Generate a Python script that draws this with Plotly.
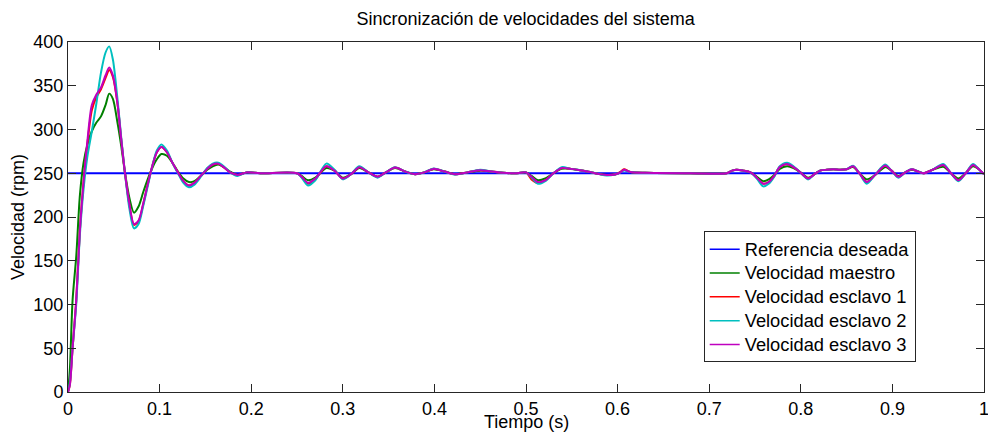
import plotly.graph_objects as go

# ---- data ----
tiempo = [0, 0.002, 0.005, 0.009, 0.013, 0.017, 0.021, 0.026, 0.031, 0.036,
          0.041, 0.045, 0.049, 0.054, 0.058, 0.062, 0.067, 0.072, 0.077, 0.082,
          0.087, 0.092, 0.097, 0.102, 0.108, 0.114, 0.120, 0.126, 0.132, 0.138,
          0.145, 0.152, 0.158, 0.164, 0.170, 0.177, 0.185, 0.195, 0.21, 0.25,
          0.255, 0.262, 0.27, 0.282, 0.291, 0.300, 0.309, 0.318, 0.328, 0.338,
          0.347, 0.357, 0.368, 0.379, 0.389, 0.399, 0.411, 0.4225, 0.436, 0.45,
          0.462, 0.475, 0.49, 0.5, 0.506, 0.513, 0.521, 0.53, 0.539, 0.549,
          0.559, 0.57, 0.58, 0.588, 0.597, 0.603, 0.607, 0.614, 0.63, 0.68,
          0.719, 0.725, 0.73, 0.737, 0.745, 0.752, 0.759, 0.765, 0.771, 0.777,
          0.785, 0.792, 0.799, 0.808, 0.815, 0.821, 0.8285, 0.8355, 0.843, 0.85,
          0.857, 0.864, 0.872, 0.881, 0.892, 0.899, 0.9065, 0.914, 0.921, 0.928,
          0.934, 0.944, 0.9555, 0.964, 0.972, 0.98, 0.988, 0.995, 1.0]

tiempo_ref = [0, 1]
referencia = [250, 250]

maestro = [0, 25, 105, 155, 225, 262, 282, 298, 308, 315,
           328, 341, 335, 308, 282, 252, 222, 205, 212, 228,
           243, 256, 266, 272, 270, 262, 252, 244, 240, 241,
           247, 254, 258, 260, 257, 252, 248, 251, 250, 250,
           247, 242, 245, 256, 253, 245, 249, 256, 251, 246,
           251, 256, 252, 249, 251, 254.5, 252, 249, 251, 253,
           252, 250.5, 250, 251, 247, 242, 244, 250, 255, 255,
           253.5, 251.5, 249, 248, 248.5, 251, 254, 251.5, 250.5, 250,
           250, 253, 254, 253, 251, 246, 241, 243, 248, 255,
           258, 256, 251.5, 245, 249, 253, 254, 254.5, 254, 254.5,
           257, 250, 243, 248, 257, 253, 247, 251, 254, 252,
           250, 254, 257.5, 250, 244, 250, 258, 254, 249]

esclavo1 = [0, 8, 50, 105, 185, 240, 282, 322, 337, 346,
            359, 368, 360, 330, 290, 252, 214, 191, 195, 214,
            237, 258, 274, 280, 274, 262, 251, 241, 236, 239,
            247, 255, 260, 261, 257, 251, 248, 251, 250, 250,
            246, 238, 243, 258, 253, 244, 249, 257, 251, 246,
            251, 256.5, 252, 249, 251, 255, 252, 249, 251, 253.5,
            252, 250.5, 250, 251, 243, 239, 242, 250, 256, 255,
            253.5, 251.5, 249, 248, 248.5, 251.5, 254.5, 251.5, 250.5, 250,
            250, 253, 254, 253, 251, 245, 238, 240, 247, 257,
            260.5, 257, 251.5, 244, 249, 253, 254, 254.5, 254, 254.5,
            258, 250, 240, 248, 259, 253, 246, 251, 254.5, 252,
            250, 254, 259.5, 250, 242, 250, 259.5, 254, 249]

esclavo2 = [0, 10, 50, 100, 180, 232, 268, 298, 330, 365,
            388, 395, 380, 335, 292, 252, 210, 187, 192, 212,
            235, 258, 276, 283, 276, 262, 250, 239, 234, 237,
            246, 256, 261, 262, 258, 251, 247, 251, 250, 250,
            245, 236, 242, 261, 254, 243, 249, 258, 251, 245,
            251, 257, 252, 249, 251, 255.5, 252, 248.5, 251, 254,
            252, 250.5, 250, 251, 245, 238, 241, 250, 257, 255,
            253.5, 251.5, 249, 247.5, 248.5, 251, 253, 251.5, 250.5, 250,
            250, 253, 254, 253, 251, 244, 235, 238, 246, 258,
            262, 258, 251.5, 243, 249, 253, 254, 254.5, 254, 254.5,
            258.5, 250, 238, 248, 260, 253, 245, 251, 255, 252,
            250, 254, 260.5, 250, 241, 250, 260.5, 254, 249]

esclavo3 = [0, 8, 50, 105, 185, 240, 285, 328, 340, 348,
            362, 371, 362, 330, 290, 252, 215, 192, 196, 215,
            237, 258, 274, 280, 274, 262, 251, 241, 236, 239,
            247, 255, 260, 261, 257, 251, 248, 251, 250, 250,
            246, 239, 244, 258, 253, 244, 249, 257, 251, 246,
            251, 256.5, 252, 249, 251, 255, 252, 249, 251, 253.5,
            252, 250.5, 250, 251, 246, 240, 242, 250, 256, 255,
            253.5, 251.5, 249, 248, 248.5, 251, 254, 251.5, 250.5, 250,
            250, 253, 254, 253, 251, 245, 238, 240, 247, 257,
            260.5, 257, 251.5, 244, 249, 253, 254, 254.5, 254, 254.5,
            258, 250, 240, 248, 259, 253, 246, 251, 254.5, 252,
            250, 254, 259.5, 250, 242, 250, 259.5, 254, 249]

nombres = ["Referencia deseada", "Velocidad maestro", "Velocidad esclavo 1",
           "Velocidad esclavo 2", "Velocidad esclavo 3"]
colores = ["#0000FF", "#008000", "#FF0000", "#00BFBF", "#BF00BF"]

x_ticks = [0, 0.1, 0.2, 0.3, 0.4, 0.5, 0.6, 0.7, 0.8, 0.9, 1]
x_ticktext = ["0", "0.1", "0.2", "0.3", "0.4", "0.5", "0.6", "0.7", "0.8", "0.9", "1"]

titulo = "Sincronización de velocidades del sistema"
titulo_x = "Tiempo (s)"
titulo_y = "Velocidad (rpm)"

for s in (maestro, esclavo1, esclavo2, esclavo3):
    assert len(s) == len(tiempo)

FONT = "Arial, Liberation Sans, sans-serif"
fig = go.Figure()

fig.add_trace(go.Scatter(x=tiempo_ref, y=referencia, mode="lines",
                         line=dict(color=colores[0], width=2), showlegend=False))
for serie, col in zip((maestro, esclavo1, esclavo2, esclavo3), colores[1:]):
    fig.add_trace(go.Scatter(x=tiempo, y=serie, mode="lines",
                             line=dict(color=col, width=2, shape="spline", smoothing=0.8),
                             showlegend=False))
# legend entries (thin sample lines like the reference)
for nom, col in zip(nombres, colores):
    fig.add_trace(go.Scatter(x=[None], y=[None], mode="lines",
                             name='<span style="font-size:18.3px">' + nom + '</span>',
                             line=dict(color=col, width=1.5)))

axis_common = dict(showline=True, linecolor="#262626", linewidth=1, mirror="ticks",
                   ticks="inside", ticklen=8, tickcolor="#262626", showgrid=False,
                   zeroline=False, automargin=False,
                   tickfont=dict(family=FONT, size=18, color="#000"))

fig.update_layout(
    width=988, height=433,
    margin=dict(l=68, r=4, t=42, b=41),
    paper_bgcolor="white", plot_bgcolor="white",
    font=dict(family=FONT, size=18, color="#000"),
    title=dict(text=titulo, x=0.532, xanchor="center",
               y=0.956, yanchor="middle", font=dict(family=FONT, size=18, color="#000")),
    xaxis=dict(range=[0, 1], tickmode="array", tickvals=x_ticks, ticktext=x_ticktext,
               ticklabeloverflow="allow", **axis_common),
    yaxis=dict(range=[0, 400], dtick=50, tick0=0,
               title=dict(text=titulo_y, standoff=4, font=dict(family=FONT, size=18)),
               **axis_common),
    legend=dict(x=0.694, y=0.459, xanchor="left", yanchor="top",
                bgcolor="white", bordercolor="#262626", borderwidth=1,
                font=dict(family=FONT, size=16, color="#000"),
                tracegroupgap=0, itemwidth=30),
    annotations=[dict(text=titulo_x, xref="paper", yref="paper", x=0.5, y=-0.117,
                      xanchor="center", yanchor="bottom", showarrow=False, borderpad=0,
                      font=dict(family=FONT, size=18, color="#000"))],
)

fig.write_html("out.html")
